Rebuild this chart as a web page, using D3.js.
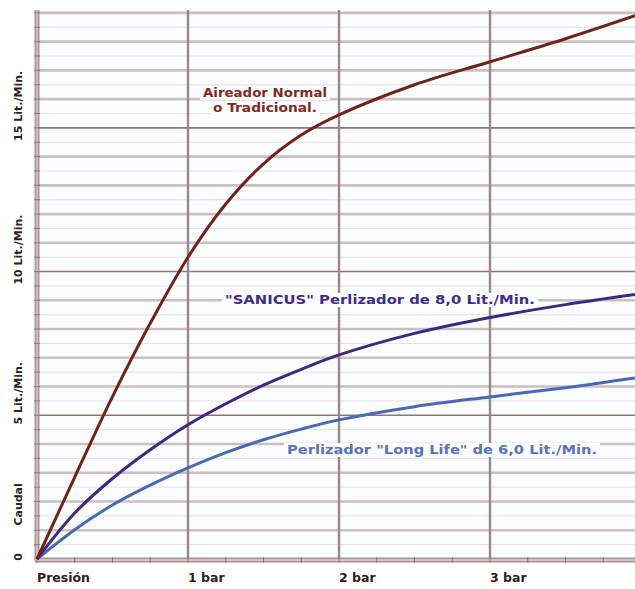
<!DOCTYPE html>
<html>
<head>
<meta charset="utf-8">
<script src="https://cdn.jsdelivr.net/npm/d3@7"></script>
<style>
html,body{margin:0;padding:0;background:#fff;}
svg{display:block;font-family:"DejaVu Sans",Verdana,sans-serif;}
</style>
</head>
<body>
<svg id="chart" width="635" height="589"></svg>
<script>
// ---- data (pressure in bar, flow in L/min) ----
const pressure = [0, 0.25, 0.5, 0.75, 1.0, 1.25, 1.5, 1.75, 2.0, 2.5, 3.0, 3.5, 3.96];
const aireador = [0, 2.85, 5.65, 8.2, 10.5, 12.35, 13.75, 14.75, 15.45, 16.5, 17.3, 18.1, 18.9];
const sanicus  = [0, 1.6, 2.8, 3.8, 4.67, 5.4, 6.05, 6.6, 7.1, 7.85, 8.4, 8.85, 9.2];
const longLife = [0, 1.02, 1.88, 2.57, 3.17, 3.7, 4.15, 4.52, 4.84, 5.3, 5.64, 5.96, 6.3];
const xTickValues = [0, 1, 2, 3];
const xTickLabels = ["Presión", "1 bar", "2 bar", "3 bar"];
const yLabelValues = [0, 1.9, 5, 10, 15];
const yLabels = ["0", "Caudal", "5 Lit./Min.", "10 Lit./Min.", "15 Lit./Min."];
const seriesNames = ["Aireador Normal|o Tradicional.", "\"SANICUS\" Perlizador de 8,0 Lit./Min.", "Perlizador \"Long Life\" de 6,0 Lit./Min."];

const svg = d3.select("#chart");
const x = d3.scaleLinear().domain([0, 4]).range([37, 641]);
const y = d3.scaleLinear().domain([0, 19.1]).range([559, 10]);

// plot background
svg.append("rect").attr("x", x(0)).attr("y", y(19.1)).attr("width", 635 - x(0)).attr("height", y(0) - y(19.1)).attr("fill", "#fafcfe");

// faint half-step lines
const half = d3.range(0.5, 19, 1);
svg.append("g").selectAll("line").data(half).join("line")
  .attr("x1", x(0)).attr("x2", 635).attr("y1", d => y(d)).attr("y2", d => y(d))
  .attr("stroke", "#e6e0e0").attr("stroke-width", 1);

// horizontal gridlines
const gridVals = d3.range(1, 19.01, 1);
svg.append("g").selectAll("line").data(gridVals).join("line")
  .attr("x1", x(0)).attr("x2", 635).attr("y1", d => y(d)).attr("y2", d => y(d))
  .attr("stroke", d => d % 5 === 0 ? "#8c7676" : "#cdbfbf")
  .attr("stroke-width", d => d % 5 === 0 ? 1.6 : 2.6);

// vertical gridlines
svg.append("g").selectAll("line").data(xTickValues.slice(1)).join("line")
  .attr("x1", d => x(d)).attr("x2", d => x(d)).attr("y1", y(19.1)).attr("y2", y(0))
  .attr("stroke", "#9a8888").attr("stroke-width", 2.4);

// left axis (ruler-like)
svg.append("line").attr("x1", x(0)).attr("x2", x(0)).attr("y1", y(19.1)).attr("y2", y(0) + 3)
  .attr("stroke", "#a89696").attr("stroke-width", 5);
svg.append("line").attr("x1", x(0)).attr("x2", x(0)).attr("y1", y(19.1)).attr("y2", y(0) + 3)
  .attr("stroke", "#d8cccc").attr("stroke-width", 1.5);
svg.append("g").selectAll("line").data(d3.range(0, 19.1, 0.5)).join("line")
  .attr("x1", x(0) - 3).attr("x2", x(0) + 3).attr("y1", d => y(d)).attr("y2", d => y(d))
  .attr("stroke", "#8c7878").attr("stroke-width", 1);

// bottom axis (ruler-like)
svg.append("line").attr("x1", x(0) - 2).attr("x2", 635).attr("y1", y(0) + 1).attr("y2", y(0) + 1)
  .attr("stroke", "#a89696").attr("stroke-width", 5);
svg.append("line").attr("x1", x(0) - 2).attr("x2", 635).attr("y1", y(0) + 1).attr("y2", y(0) + 1)
  .attr("stroke", "#dcd2d2").attr("stroke-width", 1.5);
svg.append("g").selectAll("line").data(d3.range(0, 4, 0.25)).join("line")
  .attr("x1", d => x(d)).attr("x2", d => x(d)).attr("y1", y(0) - 2).attr("y2", y(0) + 4)
  .attr("stroke", "#8c7878").attr("stroke-width", 1);

// x labels
svg.append("g").selectAll("text").data(xTickValues).join("text")
  .attr("x", d => x(d)).attr("y", 582)
  .attr("font-size", 12.5).attr("font-weight", "bold").attr("fill", "#2a2222")
  .text((d, i) => xTickLabels[i]);

// y labels (rotated)
svg.append("g").selectAll("text").data(yLabelValues).join("text")
  .attr("transform", (d, i) => {
    const cy = i === 0 ? y(0) - 2 : (i === 1 ? y(d) : y(d) - 22);
    return `translate(22,${cy}) rotate(-90)`;
  })
  .attr("text-anchor", "middle")
  .attr("font-size", 11).attr("font-weight", "bold").attr("fill", "#2a2222")
  .text((d, i) => yLabels[i]);

// curves
const line = d3.line().x(d => x(d[0])).y(d => y(d[1])).curve(d3.curveCatmullRom.alpha(0.5));
const series = [
  { vals: longLife, color: "#4a69b4" },
  { vals: sanicus, color: "#3b2a7e" },
  { vals: aireador, color: "#6e2418" }
];
svg.append("g").selectAll("path").data(series).join("path")
  .attr("d", s => line(pressure.map((p, i) => [p, s.vals[i]])))
  .attr("fill", "none").attr("stroke", s => s.color).attr("stroke-width", 3)
  .attr("stroke-linejoin", "round");

// annotations
function label(lines, xc, baselines, color, widths) {
  const g = svg.append("g");
  lines.forEach((t, i) => {
    g.append("rect").attr("x", xc - widths[i] / 2 - 3).attr("y", baselines[i] - 11)
      .attr("width", widths[i] + 6).attr("height", 14).attr("fill", "#fbfcfe");
  });
  lines.forEach((t, i) => {
    g.append("text").attr("x", xc).attr("y", baselines[i]).attr("text-anchor", "middle")
      .attr("font-size", 11.5).attr("font-weight", "bold").attr("fill", color)
      .attr("textLength", widths[i]).attr("lengthAdjust", "spacingAndGlyphs")
      .text(t);
  });
}
label(seriesNames[0].split("|"), 265, [97, 112], "#7e2a1c", [124, 104]);
label([seriesNames[1]], 380, [304], "#3f2c88", [310]);
label([seriesNames[2]], 442, [454], "#5a72b8", [310]);
</script>
</body>
</html>
